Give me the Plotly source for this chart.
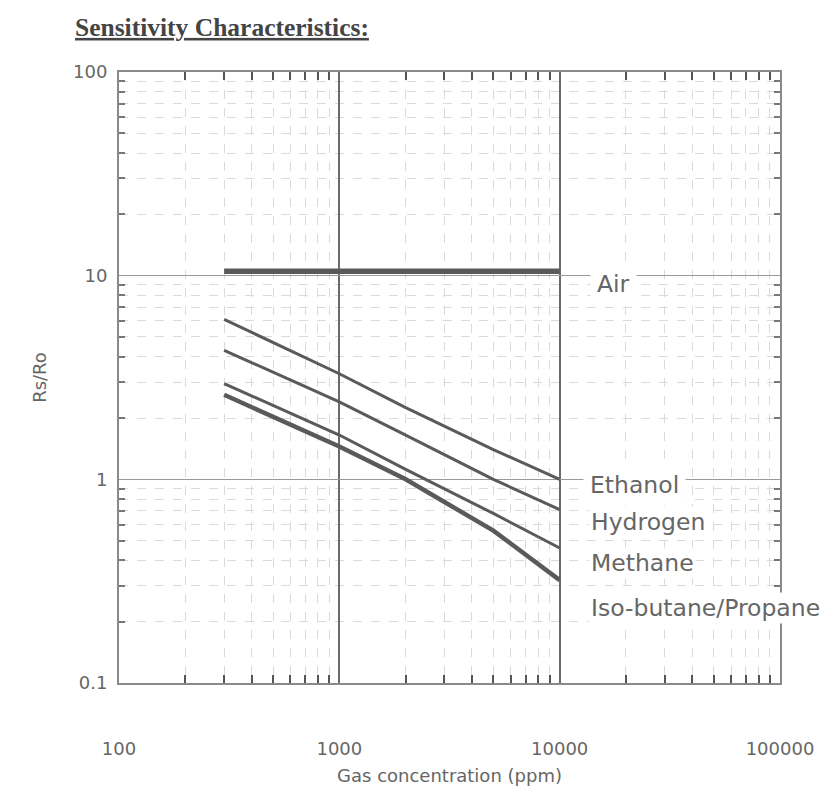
import math
import plotly.graph_objects as go

# ---- data ----
conc = [300, 1000, 2000, 5000, 10000]
air = [10.5, 10.5, 10.5, 10.5, 10.5]
ethanol = [6.1, 3.3, 2.25, 1.4, 1.0]
hydrogen = [4.3, 2.4, 1.65, 1.0, 0.71]
methane = [2.95, 1.65, 1.12, 0.68, 0.46]
isobutane = [2.6, 1.45, 1.0, 0.56, 0.32]

series = [
    ("Air", air, 5.5),
    ("Ethanol", ethanol, 3),
    ("Hydrogen", hydrogen, 3),
    ("Methane", methane, 3),
    ("Iso-butane/Propane", isobutane, 4.5),
]

x_ticks = [100, 1000, 10000, 100000]
x_tick_labels = ["100", "1000", "10000", "100000"]
y_ticks = [0.1, 1, 10, 100]
y_tick_labels = ["0.1", "1", "10", "100"]

# label anchor positions in data coordinates
label_names = ["Air", "Ethanol", "Hydrogen", "Methane", "Iso-butane/Propane"]
label_x = [13800, 12700, 13600, 13600, 13600]
label_y = [9.1, 0.935, 0.615, 0.387, 0.233]

line_col = "#5a5a5a"
text_col = "#666666"
FONT = "DejaVu Sans"

fig = go.Figure()
for name, vals, w in series:
    fig.add_trace(go.Scatter(x=conc, y=vals, mode="lines", name=name,
                             line=dict(color=line_col, width=w)))

minor_x = [m * 10 ** e for e in (2, 3, 4) for m in range(2, 10)]
minor_y = [m * 10 ** e for e in (-1, 0, 1) for m in range(2, 10)]

fig.update_xaxes(
    type="log", range=[2, 5],
    tickvals=x_ticks, ticktext=x_tick_labels,
    showgrid=True, gridcolor="#6a6a6a", gridwidth=2,
    showline=True, linecolor="#8a8a8a", linewidth=2, mirror="ticks",
    ticks="", ticklabelstandoff=48,
    tickfont=dict(family=FONT, size=18, color=text_col),
    minor=dict(tickvals=minor_x, showgrid=True, gridcolor="#dadada", gridwidth=1,
               griddash="dash", ticks="inside", ticklen=8, tickcolor="#555555", tickwidth=2),
    title=dict(text="Gas concentration (ppm)", standoff=12,
               font=dict(family=FONT, size=18, color=text_col)),
    zeroline=False,
)
fig.update_yaxes(
    type="log", range=[-1, 2],
    tickvals=y_ticks, ticktext=y_tick_labels,
    showgrid=True, gridcolor="#9a9a9a", gridwidth=1,
    showline=True, linecolor="#8a8a8a", linewidth=2, mirror="ticks",
    ticks="", ticklabelstandoff=6,
    tickfont=dict(family=FONT, size=18, color=text_col),
    minor=dict(tickvals=minor_y, showgrid=True, gridcolor="#dadada", gridwidth=1,
               griddash="dash", ticks="inside", ticklen=6, tickcolor="#777777", tickwidth=2),
    title=dict(text="Rs/Ro", standoff=22,
               font=dict(family=FONT, size=18, color=text_col)),
    zeroline=False,
)

# annotations on log axes are positioned in log10 units
for name, xv, yv in zip(label_names, label_x, label_y):
    fig.add_annotation(x=math.log10(xv), y=math.log10(yv), xref="x", yref="y",
                       text=name, showarrow=False,
                       xanchor="left", yanchor="middle",
                       bgcolor="white", borderpad=6 if name in ("Air", "Ethanol") else 1,
                       font=dict(family=FONT, size=23.5, color=text_col))

fig.update_layout(
    width=834, height=787,
    margin=dict(l=111, r=62, t=64, b=107),
    paper_bgcolor="white", plot_bgcolor="white",
    showlegend=False,
    title=dict(text="<u><b>Sensitivity Characteristics:</b></u>",
               x=67 / 834, xanchor="left", y=1 - 19 / 787, yanchor="middle",
               font=dict(family="Liberation Serif", size=25.5, color="#444444")),
)

fig.write_html("out.html")
